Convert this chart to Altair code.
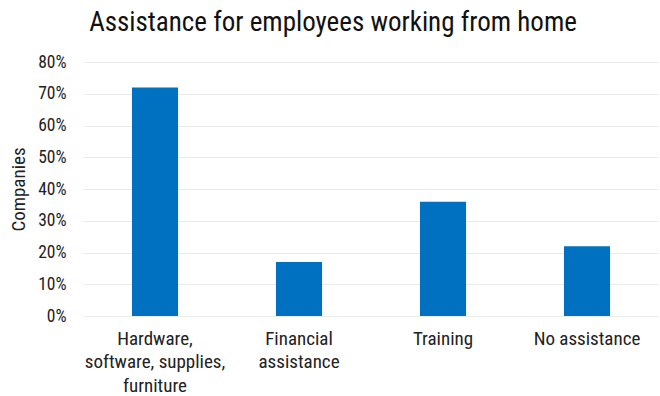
import altair as alt
import pandas as pd

categories = ["Hardware,\nsoftware, supplies,\nfurniture", "Financial\nassistance", "Training", "No assistance"]
values = [0.72, 0.17, 0.36, 0.22]
y_ticks = [0, 0.1, 0.2, 0.3, 0.4, 0.5, 0.6, 0.7, 0.8]

df = pd.DataFrame({"category": categories, "value": values})

FONT = "Roboto Condensed, Liberation Sans Narrow, Roboto"

chart = (
    alt.Chart(df)
    .mark_bar(color="#0070C0")
    .encode(
        x=alt.X(
            "category:N",
            sort=categories,
            scale=alt.Scale(paddingInner=0.68, paddingOuter=0.34),
            axis=alt.Axis(
                title=None,
                labelAngle=0,
                labelFont=FONT,
                labelFontSize=19,
                labelColor="#222222",
                labelExpr="split(datum.label, '\\n')",
                labelLineHeight=23.5,
                labelPadding=13,
                labelBaseline="top",
                ticks=False,
                domain=False,
                grid=False,
            ),
        ),
        y=alt.Y(
            "value:Q",
            scale=alt.Scale(domain=[0, 0.8], nice=False),
            axis=alt.Axis(
                title="Companies",
                titleFont=FONT,
                titleFontSize=19,
                titleFontWeight="normal",
                titleColor="#222222",
                titlePadding=9,
                format=".0%",
                values=y_ticks,
                labelFont=FONT,
                labelFontSize=17.5,
                labelColor="#222222",
                labelPadding=17,
                ticks=False,
                domain=False,
                grid=True,
                gridColor="#ececec",
                gridWidth=1,
            ),
        ),
    )
    .properties(
        width=576,
        height=254,
        padding={"left": 83, "top": 62, "right": 0, "bottom": 80},
        autosize=alt.AutoSizeParams(type="none"),
        title=alt.TitleParams(
            text="Assistance for employees working from home",
            font=FONT,
            fontSize=27,
            fontWeight="normal",
            color="#111111",
            anchor="middle",
            dx=-38,
            offset=16,
        ),
    )
    .configure_view(stroke=None)
)

chart.save("out.html", embed_options={"renderer": "svg", "actions": False})
